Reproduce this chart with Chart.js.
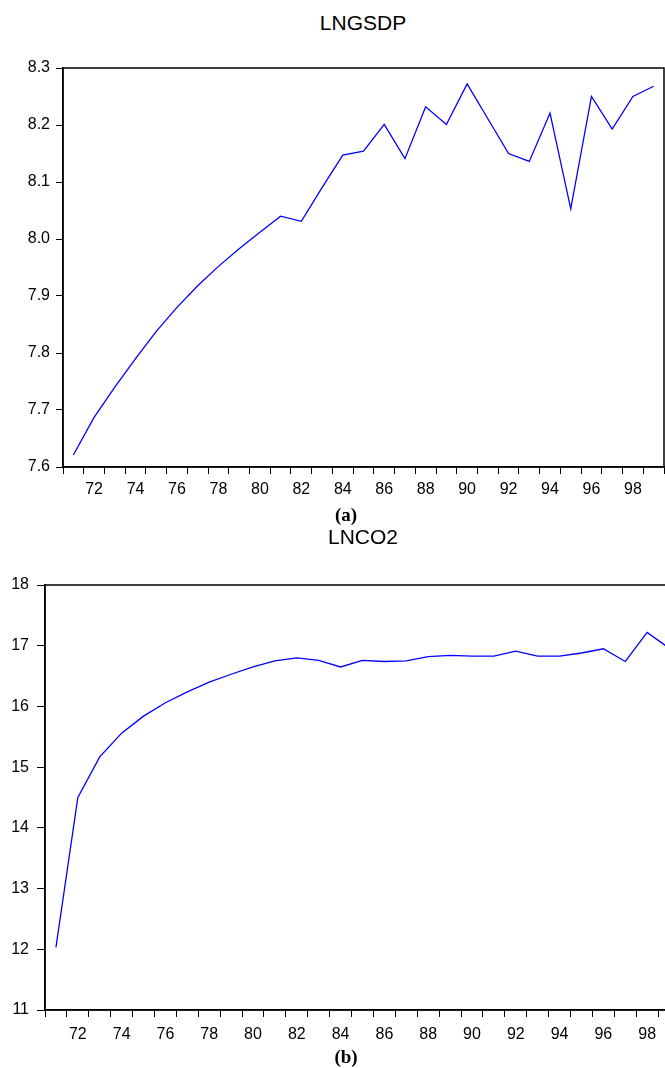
<!DOCTYPE html>
<html>
<head>
<meta charset="utf-8">
<script src="https://cdn.jsdelivr.net/npm/chart.js@4.4.1/dist/chart.umd.min.js"></script>
<style>
  html,body{margin:0;padding:0;background:#fff;overflow:hidden;}
  body{width:665px;height:1068px;position:relative;}
  .box{position:absolute;left:0;}
  .txt{position:absolute;line-height:1;white-space:nowrap;transform:translateX(-50%);color:#000;}
  .ttl{font-family:"Liberation Sans",Arial,sans-serif;font-size:21px;}
  .cap{font-family:"Liberation Serif","Times New Roman",serif;font-size:19px;font-weight:bold;}
</style>
</head>
<body>
<div class="txt ttl" style="left:363px;top:12px">LNGSDP</div>
<div class="box" style="top:0;width:665px;height:520px"><canvas id="chartA"></canvas></div>
<div class="txt cap" style="left:346px;top:505px">(a)</div>
<div class="txt ttl" style="left:363px;top:526px">LNCO2</div>
<div class="box" style="top:540px;width:700px;height:520px"><canvas id="chartB"></canvas></div>
<div class="txt cap" style="left:346px;top:1047px">(b)</div>
<script>
/* ---------- data (annual, 1971-1999) ---------- */
const years = ["71","72","73","74","75","76","77","78","79","80","81","82","83","84","85",
               "86","87","88","89","90","91","92","93","94","95","96","97","98","99"];

const lngsdp = [7.621,7.687,7.740,7.790,7.838,7.880,7.918,7.952,7.983,8.012,8.040,8.031,8.090,8.147,8.154,
                8.201,8.141,8.232,8.201,8.272,8.211,8.150,8.136,8.221,8.053,8.250,8.193,8.250,8.268];

const lnco2  = [12.03,14.50,15.17,15.56,15.84,16.06,16.24,16.40,16.53,16.65,16.75,16.80,16.76,16.65,16.76,
                16.74,16.75,16.82,16.84,16.83,16.83,16.91,16.83,16.83,16.88,16.95,16.74,17.22,16.96];

const yTicksA = [7.6,7.7,7.8,7.9,8.0,8.1,8.2,8.3];
const yTicksB = [11,12,13,14,15,16,17,18];

/* ---------- helpers ---------- */
const FONT = {family:"'Liberation Sans', Arial, sans-serif", size:16};

// box round the plot area, eviews style
const frame = {
  id:"frame",
  afterDraw(chart){
    const {ctx, chartArea:a} = chart;
    ctx.save();
    ctx.strokeStyle = "#000"; ctx.lineWidth = 1.5;
    ctx.strokeRect(a.left, a.top, a.right-a.left, a.bottom-a.top);
    ctx.restore();
  }
};

const makeChart = (id, values, yTicks, geo) => {
  const ctx = document.getElementById(id).getContext("2d");
  return new Chart(ctx, {
    type:"line",
    data:{labels:years, datasets:[{
      data:values, borderColor:"#0000FF", borderWidth:1.3,
      pointRadius:0, tension:0, fill:false
    }]},
    options:{
      responsive:true, maintainAspectRatio:false, animation:false,
      devicePixelRatio:1,
      layout:{padding:{top:geo.top, right:geo.right, left:0, bottom:0}},
      plugins:{legend:{display:false}, tooltip:{enabled:false}, title:{display:false}},
      scales:{
        x:{
          type:"category", offset:true,
          grid:{offset:true, drawOnChartArea:false, drawTicks:true, tickLength:7, color:"#000", lineWidth:1},
          border:{display:true, color:"#000", width:1.5},
          ticks:{
            autoSkip:false, maxRotation:0, color:"#000", font:FONT, padding:geo.xpad,
            callback:(v,i)=> (+years[i])%2===0 ? years[i] : ""
          },
          afterFit:s=>{ s.height = geo.xh; }
        },
        y:{
          min:yTicks[0], max:yTicks[yTicks.length-1],
          afterBuildTicks:s=>{ s.ticks = yTicks.map(v=>({value:v})); },
          grid:{drawOnChartArea:false, drawTicks:true, tickLength:geo.tl, color:"#000", lineWidth:1},
          border:{display:true, color:"#000", width:1.5},
          ticks:{
            color:"#000", font:FONT, padding:geo.pad,
            callback:v=> geo.dec ? (+v).toFixed(1) : String(v)
          },
          afterFit:s=>{ s.width = geo.yw; }
        }
      }
    },
    plugins:[frame]
  });
};

makeChart("chartA", lngsdp, yTicksA, {top:68, right:1, xh:53, yw:63, tl:7, pad:6, xpad:6, dec:true});
makeChart("chartB", lnco2,  yTicksB, {top:45, right:20, xh:50, yw:45, tl:8, pad:8, xpad:8, dec:false});
</script>
</body>
</html>
